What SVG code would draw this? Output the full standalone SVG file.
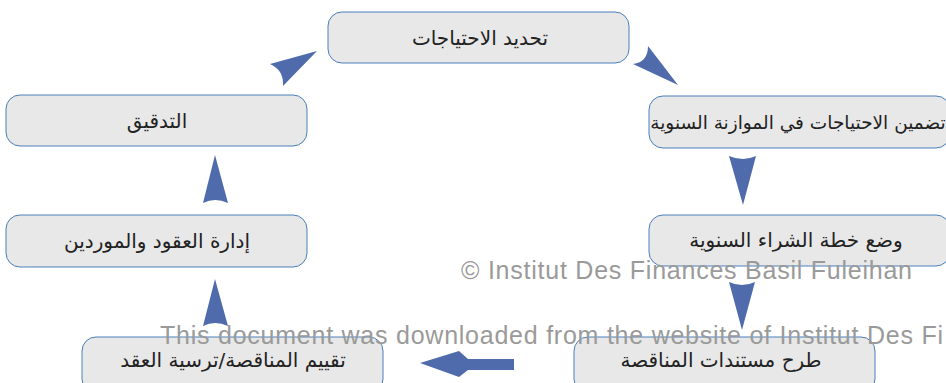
<svg xmlns="http://www.w3.org/2000/svg" width="946" height="383" viewBox="0 0 946 383">
<style>
.box{fill:#e8e8e8;stroke:#4a7ebb;stroke-width:1}
.lbl{font-family:"DejaVu Sans",sans-serif;font-size:20px;fill:#222;text-anchor:middle;direction:rtl}
.arr{fill:#4f6bab}
.wm{font-family:"Liberation Sans",Arial,sans-serif;font-size:25px;fill:#9a9a9a}
</style>
<rect width="946" height="383" fill="#fff"/>
<g id="n1"><rect class="box" x="328" y="12" width="301" height="51" rx="14"/><text class="lbl" x="480" y="45">تحديد الاحتياجات</text></g>
<g id="n2"><rect class="box" x="649" y="96" width="301" height="52" rx="14"/><text class="lbl" x="798" y="129" style="font-size:18.5px">تضمين الاحتياجات في الموازنة السنوية</text></g>
<g id="n3"><rect class="box" x="649" y="215" width="301" height="51" rx="14"/><text class="lbl" x="796" y="247">وضع خطة الشراء السنوية</text></g>
<g id="n4"><rect class="box" x="574" y="337" width="301" height="56" rx="14"/><text class="lbl" x="721" y="367">طرح مستندات المناقصة</text></g>
<g id="n5"><rect class="box" x="82" y="337" width="301" height="56" rx="14"/><text class="lbl" x="233" y="367">تقييم المناقصة/ترسية العقد</text></g>
<g id="n6"><rect class="box" x="6" y="215" width="301" height="52" rx="14"/><text class="lbl" x="157" y="248">إدارة العقود والموردين</text></g>
<g id="n7"><rect class="box" x="6" y="95" width="301" height="51" rx="14"/><text class="lbl" x="157" y="128">التدقيق</text></g>
<g id="connectors">
<path class="arr" d="M678,85 L633,64 Q648,62 648,46 Z"/>
<path class="arr" d="M743,205 L729,156 Q743,162 756,156 Z"/>
<path class="arr" d="M742,330 L729,282 Q742,288 755,282 Z"/>
<path class="arr" d="M420,363 L459,351 L468,359 L514,359 L514,370 L468,370 L459,377 Z"/>
<path class="arr" d="M215,279 L228,326 Q215,320 203,326 Z"/>
<path class="arr" d="M215,155 L228,203 Q215,197 203,203 Z"/>
<path class="arr" d="M317,51 L270,64 Q284,70 283,86 Z"/>
</g>
<text class="wm" x="461" y="279" textLength="451">© Institut Des Finances Basil Fuleihan</text>
<text class="wm" x="160" y="344" textLength="783">This document was downloaded from the website of Institut Des Fi</text>
</svg>
